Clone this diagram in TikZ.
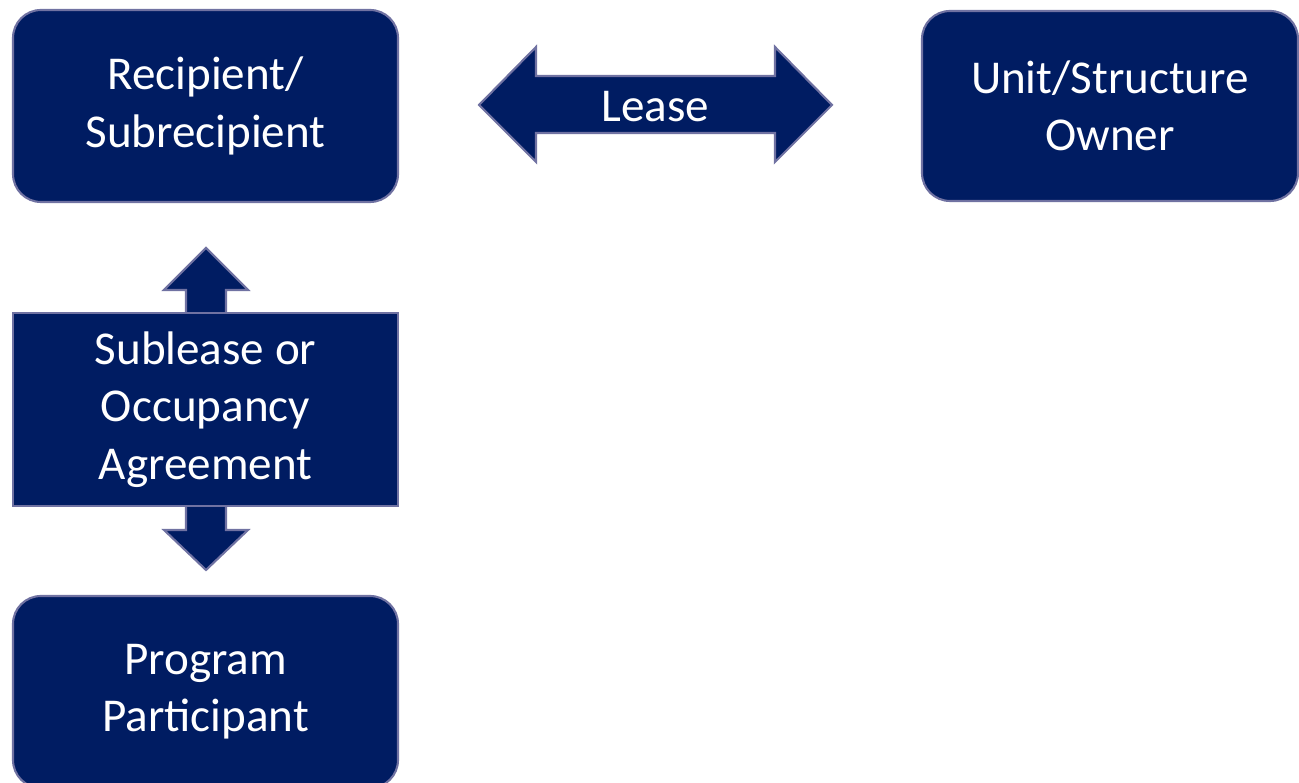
\documentclass[tikz,border=0pt]{standalone}
\usepackage{fontspec}
\setmainfont{Carlito}
\definecolor{navy}{HTML}{001C62}
\definecolor{rim}{HTML}{7072A2}
\begin{document}
\begin{tikzpicture}[
  box/.style={draw=rim,fill=navy,line width=0.6pt,rounded corners=0.28cm,
    minimum width=3.85cm,minimum height=1.92cm,align=center,text=white,
    font=\fontsize{13.4}{16.3}\selectfont},
  plate/.style={box,rounded corners=0pt},
  arrowshape/.style={draw=rim,fill=navy,line width=0.6pt},
  label/.style={text=white,font=\fontsize{13.4}{16.3}\selectfont}]
\useasboundingbox (0,0) rectangle (12.99,7.83);
% the three parties
\node[box] (recip) at (2.055,6.77) {Recipient/\\Subrecipient};
\node[box,minimum width=3.76cm,minimum height=1.90cm] (owner) at (11.10,6.77) {Unit/Structure\\Owner};
\node[box] (part) at (2.055,0.91) {Program\\Participant};
% lease arrow
\draw[arrowshape] (4.79,6.78) -- (5.36,7.36) -- (5.36,7.07) -- (7.75,7.07) -- (7.75,7.36)
  -- (8.32,6.78) -- (7.75,6.21) -- (7.75,6.50) -- (5.36,6.50) -- (5.36,6.21) -- cycle;
\node[label] (lease) at (6.555,6.765) {Lease};
% sublease arrow
\draw[arrowshape] (2.06,5.35) -- (2.48,4.93) -- (2.26,4.93) -- (2.26,2.53) -- (2.48,2.53)
  -- (2.06,2.13) -- (1.64,2.53) -- (1.86,2.53) -- (1.86,4.93) -- (1.64,4.93) -- cycle;
\node[plate,minimum height=1.93cm] (sub) at (2.055,3.735) {Sublease or\\Occupancy\\Agreement};
\end{tikzpicture}
\end{document}
